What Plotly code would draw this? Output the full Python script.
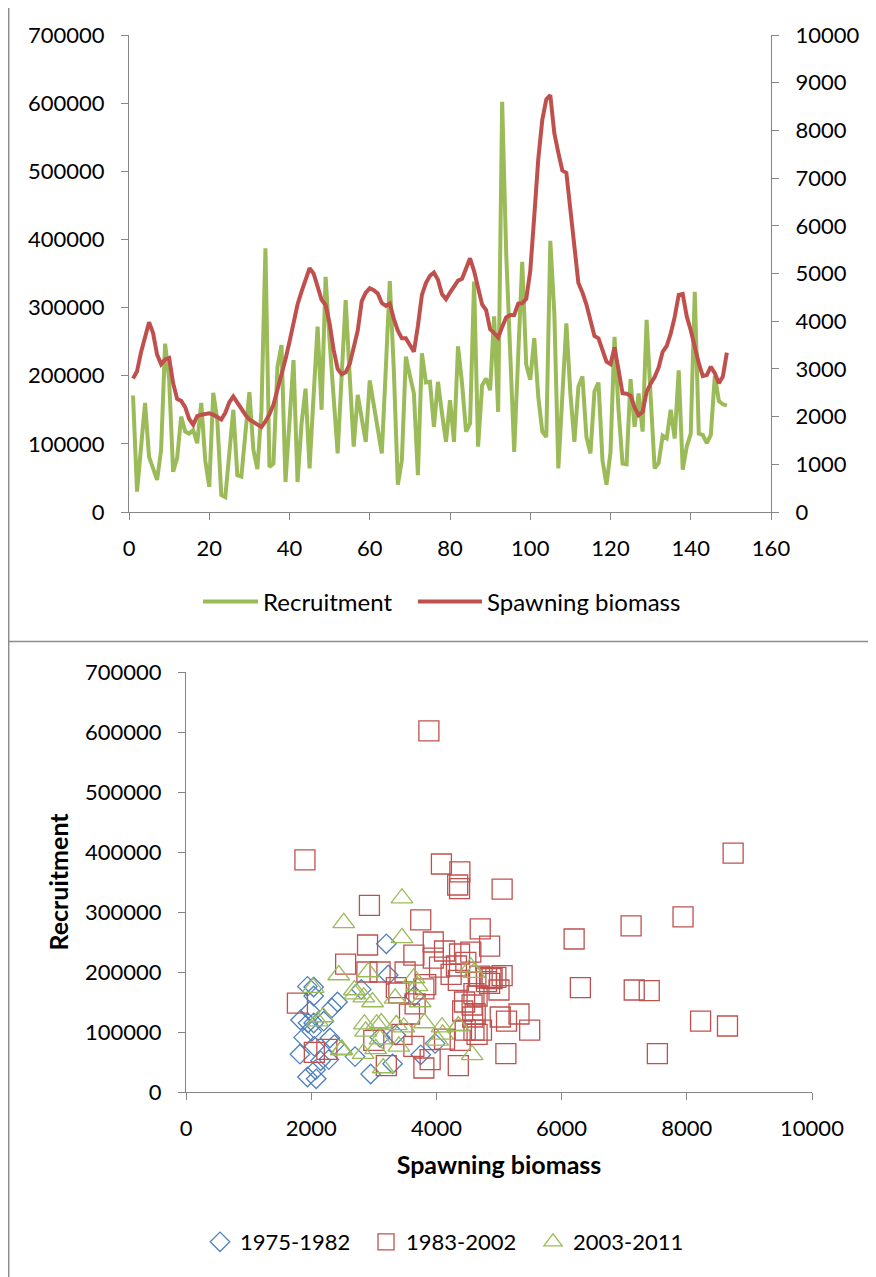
import plotly.graph_objects as go

# ---------------- data ----------------
period = list(range(1, 150))

recruitment = [
    171000, 30000, 95000, 160000, 81000, 62000, 47000, 91000, 247000, 195000,
    59000, 79000, 140000, 118000, 115000, 120000, 101000, 160000, 76000, 37000,
    175000, 135000, 25000, 22000, 90000, 150000, 54000, 52000, 115000, 176000,
    91000, 63000, 148000, 387000, 66000, 71000, 213000, 245000, 44000, 130000,
    223000, 44000, 130000, 181000, 64000, 170000, 272000, 150000, 345000, 250000,
    165000, 86000, 200000, 311000, 200000, 96000, 172000, 135000, 103000, 193000,
    160000, 125000, 86000, 210000, 339000, 208000, 40000, 76000, 228000, 200000,
    174000, 54000, 233000, 190000, 191000, 125000, 191000, 145000, 103000, 164000,
    103000, 243000, 189000, 118000, 130000, 338000, 96000, 186000, 196000, 179000,
    287000, 147000, 602000, 380000, 235000, 88000, 230000, 367000, 216000, 194000,
    255000, 169000, 118000, 110000, 398000, 292000, 64000, 170000, 277000, 174000,
    103000, 184000, 199000, 110000, 86000, 177000, 190000, 76000, 40000, 88000,
    257000, 150000, 71000, 70000, 195000, 125000, 174000, 118000, 282000, 170000,
    64000, 72000, 112000, 108000, 150000, 108000, 208000, 62000, 96000, 115000,
    323000, 115000, 113000, 101000, 113000, 200000, 163000, 158000, 156000,
]

spawning_biomass = [
    2800, 2950, 3350, 3650, 3980, 3750, 3300, 3100, 3200, 3230,
    2700, 2370, 2330, 2200, 1950, 1830, 2010, 2040, 2050, 2070,
    2040, 1980, 1940, 2080, 2300, 2420, 2280, 2150, 2040, 1940,
    1880, 1820, 1780, 1900, 2050, 2250, 2550, 2900, 3200, 3570,
    3950, 4350, 4620, 4850, 5110, 5000, 4700, 4450, 4340, 3950,
    3400, 3000, 2890, 2930, 3100, 3450, 3800, 4420, 4600, 4690,
    4650, 4580, 4380, 4320, 4370, 4050, 3800, 3640, 3640, 3500,
    3360, 3900, 4550, 4800, 4950, 5020, 4870, 4570, 4460, 4600,
    4720, 4850, 4890, 5120, 5320, 5050, 4650, 4350, 4235, 3830,
    3750, 3660, 3880, 4080, 4130, 4130, 4370, 4375, 4470, 5050,
    6200, 7400, 8220, 8650, 8740, 7940, 7530, 7160, 7110, 6300,
    5490, 4800, 4600, 4350, 4020, 3690, 3640, 3400, 3150, 3100,
    3450, 2980, 2490, 2480, 2440, 2190, 2030, 2100, 2520, 2690,
    2830, 3030, 3360, 3480, 3740, 4090, 4550, 4570, 4100, 3810,
    3450, 3120, 2850, 2870, 3046, 2910, 2700, 2840, 3340,
]

group_labels = ["1975-1982", "1983-2002", "2003-2011"]
group_starts = [0, 32, 112]
group_ends = [32, 112, 149]

# ---------------- styling ----------------
# the page body has an 8px margin, so the figure starts at page (8, 8)
OFF = 8
W, H = 876 - OFF, 1277 - OFF


def fx(p):
    return (p - OFF) / W


def fy(p):
    return 1 - (p - OFF) / H


FONT = "Lato, 'Open Sans', sans-serif"
GREEN = "#9BBB59"
RED = "#C0504D"
BLUE = "#4F81BD"
AXC = "#868686"
TICK_SIZE = 22

fig = go.Figure()

fig.add_trace(go.Scatter(
    x=period, y=recruitment, mode="lines", name="Recruitment",
    line=dict(color=GREEN, width=4), xaxis="x", yaxis="y", legend="legend"))
fig.add_trace(go.Scatter(
    x=period, y=spawning_biomass, mode="lines", name="Spawning biomass",
    line=dict(color=RED, width=4), xaxis="x", yaxis="y2", legend="legend2"))

symbols = ["diamond-open", "square-open", "triangle-up-open"]
colors = [BLUE, RED, GREEN]
sizes = [15, 20, 19]
legend_ids = ["legend3", "legend4", "legend5"]
for lab, a, b, sym, col, sz, lid in zip(group_labels, group_starts, group_ends,
                                        symbols, colors, sizes, legend_ids):
    fig.add_trace(go.Scatter(
        x=spawning_biomass[a:b], y=recruitment[a:b], mode="markers", name=lab,
        marker=dict(symbol=sym, size=sz, color=col, line=dict(color=col, width=1.3)),
        xaxis="x3", yaxis="y3", legend=lid))

axis_common = dict(
    showline=True, linecolor=AXC, linewidth=1.3,
    ticks="outside", ticklen=7, tickcolor=AXC, tickwidth=1.3,
    showgrid=False, zeroline=False, automargin=False,
    tickfont=dict(family=FONT, size=TICK_SIZE, color="#000000"),
)


def leg(xpage, ypage, itemwidth=30, size=TICK_SIZE):
    return dict(orientation="h", x=fx(xpage), xanchor="left", y=fy(ypage),
                yanchor="middle", itemwidth=itemwidth,
                bgcolor="rgba(0,0,0,0)",
                font=dict(family=FONT, size=size, color="#000000"))


fig.update_layout(
    width=W, height=H, autosize=False,
    margin=dict(l=0, r=0, t=0, b=0, pad=0, autoexpand=False),
    paper_bgcolor="white", plot_bgcolor="rgba(0,0,0,0)",
    font=dict(family=FONT, size=TICK_SIZE, color="#000000"),
    xaxis=dict(domain=[fx(129), fx(771)], anchor="y", range=[0, 160],
               tick0=0, dtick=20, ticklabelstandoff=9, **axis_common),
    yaxis=dict(domain=[fy(512), fy(35)], anchor="x", range=[0, 700000],
               tick0=0, dtick=100000, tickformat="d", ticklabelstandoff=12,
               **axis_common),
    yaxis2=dict(overlaying="y", side="right", anchor="x", range=[0, 10000],
                tick0=0, dtick=1000, tickformat="d", ticklabelstandoff=12,
                **axis_common),
    xaxis3=dict(domain=[fx(186), fx(812)], anchor="y3", range=[0, 10000],
                tick0=0, dtick=2000, tickformat="d", ticklabelstandoff=9,
                title=dict(text="<b>Spawning biomass</b>", standoff=16,
                           font=dict(family=FONT, size=25, color="#000000")),
                **axis_common),
    yaxis3=dict(domain=[fy(1092), fy(672)], anchor="x3", range=[0, 700000],
                tick0=0, dtick=100000, tickformat="d", ticklabelstandoff=12,
                title=dict(text="<b>Recruitment</b>", standoff=9,
                           font=dict(family=FONT, size=25, color="#000000")),
                **axis_common),
    legend=leg(198, 602, itemwidth=55, size=24),
    legend2=leg(413, 602, itemwidth=64, size=24),
    legend3=leg(200, 1242),
    legend4=leg(366, 1242),
    legend5=leg(533, 1242),
    showlegend=True,
    shapes=[
        dict(type="line", xref="paper", yref="paper", x0=fx(8.7), x1=fx(8.7),
             y0=0, y1=1, line=dict(color="#8C8C8C", width=1.5)),
        dict(type="line", xref="paper", yref="paper", x0=fx(8.7), x1=1,
             y0=fy(641.5), y1=fy(641.5), line=dict(color="#8C8C8C", width=1.5)),
    ],
)

fig.write_html("out.html")
